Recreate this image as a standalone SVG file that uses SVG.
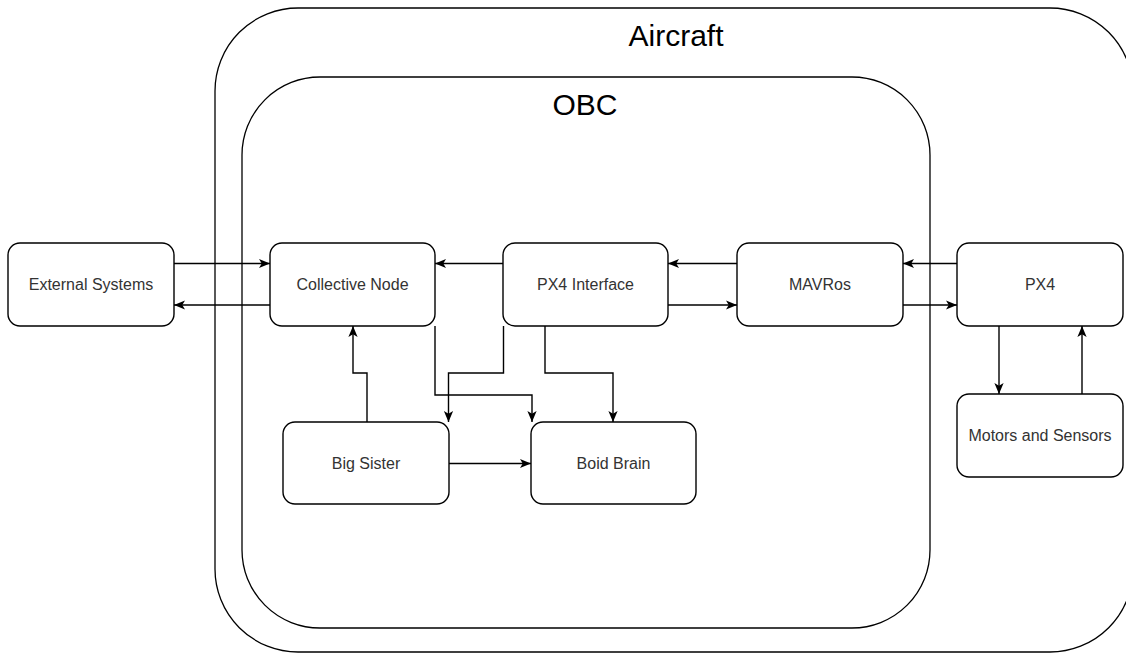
<svg xmlns="http://www.w3.org/2000/svg" width="1126" height="653" viewBox="0 0 1126 653">
<style>
.container{fill:#fff;stroke:#000;stroke-width:1.3}
.node{fill:#fff;stroke:#000;stroke-width:1.4}
.lbl{font-family:"Liberation Sans",Arial,sans-serif;font-size:16px;fill:#333;text-anchor:middle;dominant-baseline:central}
.title{font-family:"Liberation Sans",Arial,sans-serif;font-size:30px;fill:#000;text-anchor:middle}
.edge{fill:none;stroke:#000;stroke-width:1.4;marker-end:url(#arr)}
</style>
<defs>
<marker id="arr" markerUnits="userSpaceOnUse" viewBox="0 0 10 10" markerWidth="11" markerHeight="11" refX="10" refY="5" orient="auto">
<path d="M0,0.8 L10,5 L0,9.2 L2.5,5 z" fill="#000"/>
</marker>
</defs>
<rect width="1126" height="653" fill="#fff"/>
<g id="aircraft">
<rect class="container" x="215" y="8" width="918" height="644" rx="83" ry="83"/>
<text class="title" x="676" y="46">Aircraft</text>
</g>
<g id="obc">
<rect class="container" x="242" y="77" width="688" height="551" rx="78" ry="78"/>
<text class="title" x="585" y="115">OBC</text>
</g>
<g id="external-systems">
<rect class="node" x="8" y="243" width="166" height="83" rx="12" ry="12"/>
<text class="lbl" x="91" y="284.5">External Systems</text>
</g>
<g id="collective-node">
<rect class="node" x="270" y="243" width="165" height="83" rx="12" ry="12"/>
<text class="lbl" x="352.5" y="284.5">Collective Node</text>
</g>
<g id="px4-interface">
<rect class="node" x="503" y="243" width="165" height="83" rx="12" ry="12"/>
<text class="lbl" x="585.5" y="284.5">PX4 Interface</text>
</g>
<g id="mavros">
<rect class="node" x="737" y="243" width="166" height="83" rx="12" ry="12"/>
<text class="lbl" x="820" y="284.5">MAVRos</text>
</g>
<g id="px4">
<rect class="node" x="957" y="243" width="166" height="83" rx="12" ry="12"/>
<text class="lbl" x="1040" y="284.5">PX4</text>
</g>
<g id="big-sister">
<rect class="node" x="283" y="422" width="166" height="82" rx="12" ry="12"/>
<text class="lbl" x="366" y="463">Big Sister</text>
</g>
<g id="boid-brain">
<rect class="node" x="531" y="422" width="165" height="82" rx="12" ry="12"/>
<text class="lbl" x="613.5" y="463">Boid Brain</text>
</g>
<g id="motors-and-sensors">
<rect class="node" x="957" y="394" width="166" height="83" rx="12" ry="12"/>
<text class="lbl" x="1040" y="435.5">Motors and Sensors</text>
</g>
<g id="connectors">
<path class="edge" d="M174,263.5 L270,263.5"/>
<path class="edge" d="M270,305 L174,305"/>
<path class="edge" d="M503,263.5 L435,263.5"/>
<path class="edge" d="M737,263.5 L668,263.5"/>
<path class="edge" d="M668,305 L737,305"/>
<path class="edge" d="M957,263.5 L903,263.5"/>
<path class="edge" d="M903,305 L957,305"/>
<path class="edge" d="M999,326 L999,394"/>
<path class="edge" d="M1082,394 L1082,326"/>
<path class="edge" d="M367,422 L367,373 L353,373 L353,326"/>
<path class="edge" d="M435,326 L435,395 L532,395 L532,422"/>
<path class="edge" d="M503.5,326 L503.5,373 L448.5,373 L448.5,422"/>
<path class="edge" d="M545,326 L545,373 L613,373 L613,422"/>
<path class="edge" d="M449,463.5 L531,463.5"/>
</g>
</svg>
